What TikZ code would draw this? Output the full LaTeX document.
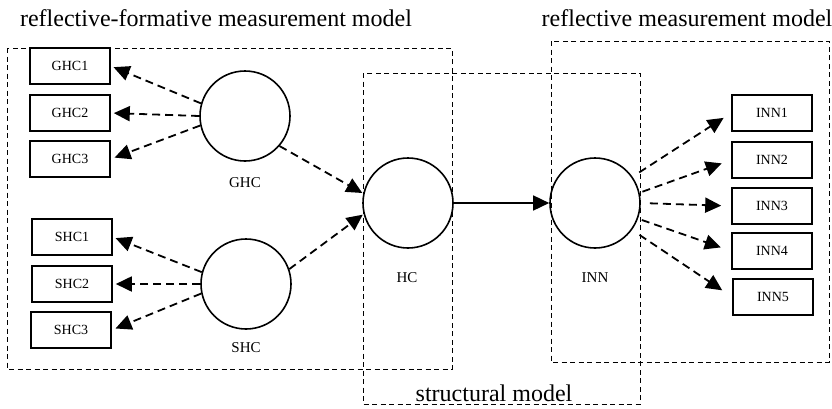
\documentclass[tikz,border=0pt]{standalone}
\usepackage{fontspec}
\setmainfont{Liberation Serif}
\usetikzlibrary{arrows.meta}
\begin{document}
\begin{tikzpicture}[x=1pt,y=-1pt,
  latent/.style={circle,draw,line width=1.6pt,minimum size=90pt,inner sep=0pt},
  indicator/.style={rectangle,draw,line width=1.6pt,minimum width=80pt,minimum height=36pt,inner sep=0pt,font=\fontsize{14}{16}\selectfont},
  lbl/.style={font=\fontsize{15}{17}\selectfont,inner sep=0pt,anchor=base},
  title/.style={font=\fontsize{24}{28}\selectfont,inner sep=0pt,anchor=base},
  region/.style={draw,line width=0.9pt,dash pattern=on 5pt off 3.5pt},
  dasharrow/.style={line width=1.8pt,dash pattern=on 8pt off 5pt,-{Triangle[length=16pt,width=15pt]}},
  solidarrow/.style={line width=1.5pt,-{Triangle[length=16pt,width=15pt]}}]
\useasboundingbox (0,0) rectangle (832,408);
% regions
\draw[region] (7,48) rectangle (452,369);
\draw[region] (363,73) rectangle (640,404);
\draw[region] (551,41) rectangle (829,362);
% titles
\node[title] (t1) at (216,26) {reflective-formative measurement model};
\node[title] (t2) at (687,26) {reflective measurement model};
\node[title,fill=white,inner xsep=1pt] (t3) at (494,401) {structural model};
% latent variables
\node[latent] (GHC) at (245,116) {};
\node[latent] (SHC) at (246,284) {};
\node[latent] (HC) at (408,203) {};
\node[latent] (INN) at (595,203) {};
\node[lbl] (lGHC) at (245,187) {GHC};
\node[lbl] (lSHC) at (246,352) {SHC};
\node[lbl] (lHC) at (407,282) {HC};
\node[lbl] (lINN) at (595,282) {INN};
% indicators
\node[indicator] (GHC1) at (70,66) {GHC1};
\node[indicator] (GHC2) at (70,113) {GHC2};
\node[indicator] (GHC3) at (70,159) {GHC3};
\node[indicator] (SHC1) at (72,237) {SHC1};
\node[indicator] (SHC2) at (72,284) {SHC2};
\node[indicator] (SHC3) at (71,330) {SHC3};
\node[indicator] (INN1) at (772,113) {INN1};
\node[indicator] (INN2) at (772,160) {INN2};
\node[indicator] (INN3) at (772,206) {INN3};
\node[indicator] (INN4) at (772,251) {INN4};
\node[indicator] (INN5) at (773,297) {INN5};
% arrows
\draw[dasharrow,shorten >=3pt] (GHC.164) -- (GHC1.east);
\draw[dasharrow,shorten >=3pt] (GHC.180) -- (GHC2.east);
\draw[dasharrow,shorten >=4pt] (GHC.192) -- (GHC3.east);
\draw[dasharrow,shorten >=1pt] (GHC.-41) -- (HC.168);
\draw[dasharrow,shorten >=1pt] (SHC.19) -- (HC.194);
\draw[dasharrow,shorten >=3pt] (SHC.165) -- (SHC1.east);
\draw[dasharrow,shorten >=3pt] (SHC.180) -- (SHC2.east);
\draw[dasharrow,shorten >=4pt] (SHC.192) -- (SHC3.east);
\draw[solidarrow] (HC.east) -- (INN.west);
\draw[dasharrow,shorten >=9pt,shorten <=8pt] (INN.35) -- (INN1.west);
\draw[dasharrow,shorten >=10pt,shorten <=3pt] (INN.13) -- (INN2.west);
\draw[dasharrow,shorten >=10pt,shorten <=9pt] (INN.east) -- (INN3.west);
\draw[dasharrow,shorten >=11pt,shorten <=4pt] (INN.-20) -- (INN4.west);
\draw[dasharrow,shorten >=12pt,shorten <=9pt] (INN.-36) -- (INN5.west);
\end{tikzpicture}
\end{document}
